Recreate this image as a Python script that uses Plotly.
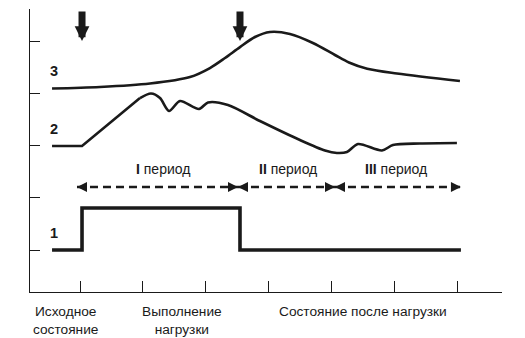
import plotly.graph_objects as go

# Time axis (arbitrary units) and level axis
x_ticks = [1, 2, 3, 4, 5, 6, 7]
y_ticks = [1, 2, 3, 4, 5]

# Curve 3
curve3_x = [0.556, 1.317, 2.111, 2.746, 3.063, 3.302, 3.540, 3.778, 4.016,
            4.333, 4.698, 5.048, 5.270, 5.560, 6.032, 7.032]
curve3_y = [4.100, 4.129, 4.196, 4.321, 4.493, 4.685, 4.895, 5.088, 5.184,
            5.146, 4.973, 4.743, 4.600, 4.480, 4.388, 4.244]

# Curve 2: flat start and straight rise, then the wavy part
curve2_x = [0.556, 1.032, 1.952,
            2.127, 2.270, 2.413, 2.587, 2.889, 3.032, 3.349, 3.857, 4.492,
            4.889, 5.079, 5.238, 5.413, 5.794, 5.968, 6.397, 6.984]
curve2_y = [2.996, 2.996, 3.917,
            4.004, 3.917, 3.668, 3.860, 3.706, 3.831, 3.783, 3.476, 3.111,
            2.910, 2.862, 2.881, 3.035, 2.910, 3.015, 3.044, 3.054]
curve2_split = 2  # index where the straight rise ends

# Curve 1 (load on / off)
curve1_x = [0.556, 1.032, 3.540, 7.048]
curve1_y = [1.0, 1.806, 1.0, 1.0]

# Moments marked by arrows (start and end of load)
event_x = [1.032, 3.540]
event_y = 5.011

# Periods
period_bounds = [0.952, 3.508, 5.048, 7.048]
period_names = ["I", "II", "III"]
period_label_x = [2.317, 4.310, 6.016]
period_line_y = 2.209
period_label_y = 2.555

# Curve numbers
curve_names = ["3", "2", "1"]
curve_name_x = 0.587
curve_name_y = [4.436, 3.322, 1.326]

# Phase captions under the time axis
phase_texts = ["Исходное<br>состояние", "Выполнение<br>нагрузки", "Состояние после нагрузки"]
phase_x = [0.762, 2.627, 5.492]

INK = "#1a1a1a"
FONT = "Liberation Sans, Arial, sans-serif"

fig = go.Figure()

fig.add_trace(go.Scatter(x=curve3_x, y=curve3_y, mode="lines",
                         line=dict(color=INK, width=2.6, shape="spline", smoothing=0.9),
                         hoverinfo="skip", showlegend=False))
s = curve2_split
fig.add_trace(go.Scatter(x=curve2_x[:s + 1], y=curve2_y[:s + 1], mode="lines",
                         line=dict(color=INK, width=2.6, shape="linear"),
                         hoverinfo="skip", showlegend=False))
fig.add_trace(go.Scatter(x=curve2_x[s:], y=curve2_y[s:], mode="lines",
                         line=dict(color=INK, width=2.6, shape="spline", smoothing=0.8),
                         hoverinfo="skip", showlegend=False))
fig.add_trace(go.Scatter(x=curve1_x, y=curve1_y, mode="lines",
                         line=dict(color=INK, width=3.6, shape="hv"),
                         hoverinfo="skip", showlegend=False))

# Dashed double-headed arrows for each period
for i in range(len(period_names)):
    x0, x1 = period_bounds[i], period_bounds[i + 1]
    fig.add_trace(go.Scatter(x=[x0, x1], y=[period_line_y, period_line_y], mode="lines",
                             line=dict(color=INK, width=2.6, dash="8px,5px"),
                             hoverinfo="skip", showlegend=False))
    fig.add_trace(go.Scatter(x=[x0, x1], y=[period_line_y, period_line_y], mode="markers",
                             marker=dict(symbol=["arrow-left", "arrow-right"], size=10,
                                         color=INK, line=dict(width=0)),
                             hoverinfo="skip", showlegend=False))
    fig.add_annotation(x=period_label_x[i], y=period_label_y, xref="x", yref="y",
                       text=f"<b>{period_names[i]}</b> период", showarrow=False,
                       font=dict(family=FONT, size=14, color=INK),
                       xanchor="center", yanchor="middle")

# Bold down arrows
for ex in event_x:
    fig.add_annotation(x=ex, y=event_y, xref="x", yref="y", ax=0, ay=-31,
                       text="", showarrow=True, arrowhead=2, arrowwidth=7,
                       arrowsize=0.42, arrowcolor=INK, standoff=0)

for name, ny in zip(curve_names, curve_name_y):
    fig.add_annotation(x=curve_name_x, y=ny, xref="x", yref="y", text=f"<b>{name}</b>",
                       showarrow=False, font=dict(family=FONT, size=14.5, color=INK),
                       xanchor="center", yanchor="middle")

for txt, px in zip(phase_texts, phase_x):
    fig.add_annotation(x=px, y=-0.035, xref="x", yref="paper", text=txt,
                       showarrow=False, font=dict(family=FONT, size=13.7, color=INK),
                       xanchor="center", yanchor="top", align="center")

fig.update_layout(
    width=525, height=338,
    margin=dict(l=30, r=23, t=9, b=46),
    paper_bgcolor="white", plot_bgcolor="white",
    xaxis=dict(range=[0.206, 7.70], showgrid=False, zeroline=False,
               showline=True, linecolor=INK, linewidth=1,
               tickvals=x_ticks, ticks="inside", ticklen=11, tickcolor=INK,
               tickwidth=1, showticklabels=False),
    yaxis=dict(range=[0.194, 5.626], showgrid=False, zeroline=False,
               showline=True, linecolor=INK, linewidth=1,
               tickvals=y_ticks, ticks="inside", ticklen=10, tickcolor=INK,
               tickwidth=1, showticklabels=False),
)

fig.write_html("out.html")
